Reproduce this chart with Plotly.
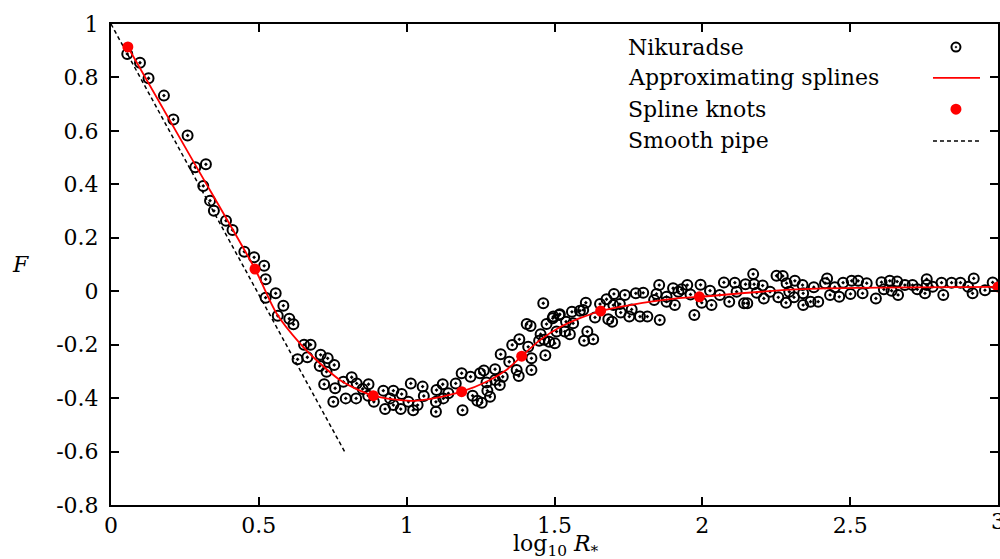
import plotly.graph_objects as go

# Nikuradse data (log10 R*, F)
nik_x = [0.055, 0.098, 0.127, 0.179, 0.211, 0.259, 0.285, 0.321, 0.312, 0.335, 0.348, 0.389, 0.411, 0.451, 0.484,
         0.518, 0.523, 0.557, 0.523, 0.583, 0.564, 0.603, 0.617, 0.653, 0.675, 0.631, 0.664, 0.709, 0.733, 0.706,
         0.729, 0.755, 0.721, 0.758, 0.786, 0.814, 0.831, 0.752, 0.794, 0.829, 0.851, 0.871, 0.870, 0.889, 0.921,
         0.927, 0.955, 0.944, 0.955, 0.980, 0.983, 1.014, 1.006, 1.022, 1.037, 1.054, 1.058, 1.101, 1.099, 1.099,
         1.122, 1.124, 1.141, 1.166, 1.186, 1.189, 1.216, 1.223, 1.239, 1.254, 1.248, 1.261, 1.270, 1.273, 1.282,
         1.299, 1.299, 1.315, 1.318, 1.325, 1.347, 1.357, 1.372, 1.379, 1.381, 1.406, 1.419, 1.411, 1.422, 1.422,
         1.448, 1.453, 1.462, 1.469, 1.465, 1.473, 1.482, 1.494, 1.496, 1.501, 1.507, 1.516, 1.518, 1.539, 1.535,
         1.552, 1.559, 1.563, 1.586, 1.597, 1.600, 1.606, 1.611, 1.631, 1.637, 1.654, 1.676, 1.682, 1.695, 1.699,
         1.701, 1.721, 1.724, 1.738, 1.753, 1.761, 1.775, 1.789, 1.800, 1.814, 1.837, 1.845, 1.854, 1.856, 1.879,
         1.879, 1.901, 1.907, 1.919, 1.930, 1.949, 1.960, 1.973, 1.994, 1.998, 2.026, 2.031, 2.059, 2.073, 2.091,
         2.110, 2.116, 2.141, 2.146, 2.152, 2.172, 2.175, 2.184, 2.204, 2.208, 2.229, 2.251, 2.257, 2.272, 2.283,
         2.285, 2.294, 2.310, 2.313, 2.339, 2.341, 2.341, 2.366, 2.377, 2.392, 2.415, 2.422, 2.432, 2.448, 2.463,
         2.476, 2.501, 2.505, 2.527, 2.542, 2.556, 2.587, 2.606, 2.614, 2.634, 2.640, 2.659, 2.662, 2.685, 2.711,
         2.727, 2.753, 2.759, 2.759, 2.779, 2.809, 2.815, 2.843, 2.873, 2.899, 2.914, 2.918, 2.956, 2.982]
nik_y = [0.888, 0.855, 0.797, 0.732, 0.643, 0.583, 0.464, 0.475, 0.394, 0.339, 0.301, 0.264, 0.229, 0.148, 0.127,
         0.095, 0.045, -0.008, -0.024, -0.054, -0.092, -0.103, -0.124, -0.200, -0.200, -0.255, -0.247, -0.238, -0.251, -0.280,
         -0.301, -0.276, -0.348, -0.363, -0.339, -0.322, -0.345, -0.414, -0.401, -0.401, -0.366, -0.348, -0.391, -0.414, -0.372,
         -0.441, -0.372, -0.401, -0.426, -0.441, -0.385, -0.345, -0.414, -0.445, -0.426, -0.357, -0.392, -0.370, -0.414, -0.451,
         -0.348, -0.401, -0.382, -0.345, -0.307, -0.445, -0.320, -0.391, -0.410, -0.417, -0.307, -0.297, -0.342, -0.372, -0.395,
         -0.292, -0.332, -0.351, -0.236, -0.320, -0.264, -0.201, -0.295, -0.317, -0.180, -0.123, -0.130, -0.208, -0.251, -0.295,
         -0.185, -0.161, -0.045, -0.240, -0.182, -0.123, -0.189, -0.101, -0.095, -0.195, -0.151, -0.089, -0.086, -0.114, -0.151,
         -0.161, -0.077, -0.120, -0.073, -0.070, -0.185, -0.043, -0.151, -0.180, -0.098, -0.048, -0.030, -0.105, -0.114, -0.052,
         -0.010, -0.048, -0.080, -0.014, -0.095, -0.068, -0.008, -0.095, -0.006, -0.095, -0.033, -0.010, 0.023, -0.108, -0.039,
         -0.021, 0.011, -0.052, -0.002, 0.007, 0.023, -0.012, -0.089, 0.024, -0.043, 0.002, -0.052, -0.014, 0.033, -0.039,
         0.032, -0.002, -0.045, 0.026, -0.045, 0.064, 0.026, -0.006, 0.021, -0.027, -0.002, 0.058, -0.023, 0.057, -0.043,
         0.030, -0.002, -0.023, 0.039, 0.023, -0.008, -0.052, -0.039, 0.015, -0.039, 0.030, 0.048, -0.014, 0.015, -0.021,
         0.032, -0.010, 0.039, 0.039, -0.008, 0.030, -0.027, 0.034, 0.007, 0.039, 0.002, 0.036, -0.014, 0.023, 0.023,
         0.007, -0.008, 0.045, 0.023, 0.017, 0.032, -0.014, 0.032, 0.032, 0.017, -0.008, 0.048, 0.004, 0.033]

# Approximating spline curve
spline_x = [0.057, 0.27, 0.487, 0.560, 0.639, 0.701, 0.774, 0.842, 0.887, 0.955, 1.022, 1.09, 1.186, 1.270,
            1.337, 1.389, 1.451, 1.518, 1.586, 1.656, 1.755, 1.913, 1.99, 2.32, 3.0]
spline_y = [0.914, 0.502, 0.083, -0.083, -0.195, -0.264, -0.332, -0.372, -0.391, -0.405, -0.41, -0.401, -0.376,
            -0.339, -0.295, -0.243, -0.183, -0.135, -0.101, -0.074, -0.052, -0.027, -0.021, 0.007, 0.016]

# Spline knots
knot_x = [0.057, 0.487, 0.887, 1.186, 1.389, 1.656, 1.99, 3.0]
knot_y = [0.914, 0.083, -0.391, -0.376, -0.243, -0.074, -0.021, 0.016]

# Smooth pipe line
smooth_x = [0.0, 0.79]
smooth_y = [1.0, -0.6]

x_ticks = [0, 0.5, 1, 1.5, 2, 2.5, 3]
x_ticktext = ["0", "0.5", "1", "1.5", "2", "2.5", "3"]
y_ticks = [-0.8, -0.6, -0.4, -0.2, 0, 0.2, 0.4, 0.6, 0.8, 1]
y_ticktext = ["-0.8", "-0.6", "-0.4", "-0.2", "0", "0.2", "0.4", "0.6", "0.8", "1"]

legend_labels = ["Nikuradse", "Approximating splines", "Spline knots", "Smooth pipe"]

FONT = "DejaVu Serif"
FS = 22

fig = go.Figure()
fig.add_trace(go.Scatter(x=smooth_x, y=smooth_y, mode="lines",
                         line=dict(color="black", width=1.5, dash="4px,3px"), showlegend=False))
fig.add_trace(go.Scatter(x=nik_x, y=nik_y, mode="markers",
                         marker=dict(symbol="circle-open-dot", size=10, color="black",
                                     line=dict(width=2, color="black")), showlegend=False))
fig.add_trace(go.Scatter(x=spline_x, y=spline_y, mode="lines", line_shape="spline",
                         line=dict(color="red", width=1.8, smoothing=0.8), showlegend=False))
fig.add_trace(go.Scatter(x=knot_x, y=knot_y, mode="markers",
                         marker=dict(symbol="circle", size=11, color="red"), showlegend=False))

# custom legend: text on the left, sample on the right
leg_x_text = 0.5806
leg_rows = [0.952, 0.888, 0.823, 0.757]
sym_x = 0.9526
annotations = []
for lab, yy in zip(legend_labels, leg_rows):
    annotations.append(dict(x=leg_x_text, y=yy, xref="paper", yref="paper", text=lab, showarrow=False,
                            xanchor="left", yanchor="middle", font=dict(family=FONT, size=FS, color="black")))
shapes = [
    dict(type="circle", xref="paper", yref="paper", xsizemode="pixel", ysizemode="pixel",
         xanchor=sym_x, yanchor=leg_rows[0], x0=-4.5, x1=4.5, y0=-4.5, y1=4.5,
         line=dict(color="black", width=2)),
    dict(type="circle", xref="paper", yref="paper", xsizemode="pixel", ysizemode="pixel",
         xanchor=sym_x, yanchor=leg_rows[0], x0=-0.9, x1=0.9, y0=-0.9, y1=0.9,
         fillcolor="black", line=dict(color="black", width=0.5)),
    dict(type="line", xref="paper", yref="paper", x0=0.9267, x1=0.9797, y0=leg_rows[1], y1=leg_rows[1],
         line=dict(color="red", width=1.8)),
    dict(type="circle", xref="paper", yref="paper", xsizemode="pixel", ysizemode="pixel",
         xanchor=sym_x, yanchor=leg_rows[2], x0=-5.5, x1=5.5, y0=-5.5, y1=5.5,
         fillcolor="red", line=dict(color="red", width=0)),
    dict(type="line", xref="paper", yref="paper", x0=0.9267, x1=0.9797, y0=leg_rows[3], y1=leg_rows[3],
         line=dict(color="black", width=1.5, dash="4px,3px")),
]

# last x tick label sits on the figure edge (partly cut off, as in the original)
annotations.append(dict(x=x_ticks[-1], y=-0.035, xref="x", yref="paper", text=x_ticktext[-1], showarrow=False,
                        xanchor="center", yanchor="middle", font=dict(family=FONT, size=FS, color="black")))

# axis titles
annotations.append(dict(x=0.502, y=-0.084, xref="paper", yref="paper",
                        text="log<sub>10</sub> <i>R</i><sub>*</sub>", showarrow=False,
                        xanchor="center", yanchor="middle", font=dict(family=FONT, size=FS, color="black")))
annotations.append(dict(x=-0.102, y=0.499, xref="paper", yref="paper", text="<i>F</i>", showarrow=False,
                        xanchor="center", yanchor="middle", font=dict(family=FONT, size=FS, color="black")))

axis_common = dict(showgrid=False, zeroline=False, showline=True, linecolor="black", linewidth=2,
                   mirror="ticks", ticks="inside", ticklen=8, tickwidth=1.5, tickcolor="black",
                   tickfont=dict(family=FONT, size=FS, color="black"))

fig.update_layout(
    width=1000, height=559,
    margin=dict(l=111, r=2, t=24, b=54),
    paper_bgcolor="white", plot_bgcolor="white",
    xaxis=dict(range=[0, 3], tickvals=x_ticks, ticktext=x_ticktext[:-1] + [""], automargin=False, **axis_common),
    yaxis=dict(range=[-0.8, 1], tickvals=y_ticks, ticktext=y_ticktext, ticklabelstandoff=6, automargin=False,
               **axis_common),
    annotations=annotations, shapes=shapes, showlegend=False,
)

fig.write_html("out.html", config={"displayModeBar": False},
               post_script="document.body.style.margin='0';document.body.style.overflow='hidden';")
